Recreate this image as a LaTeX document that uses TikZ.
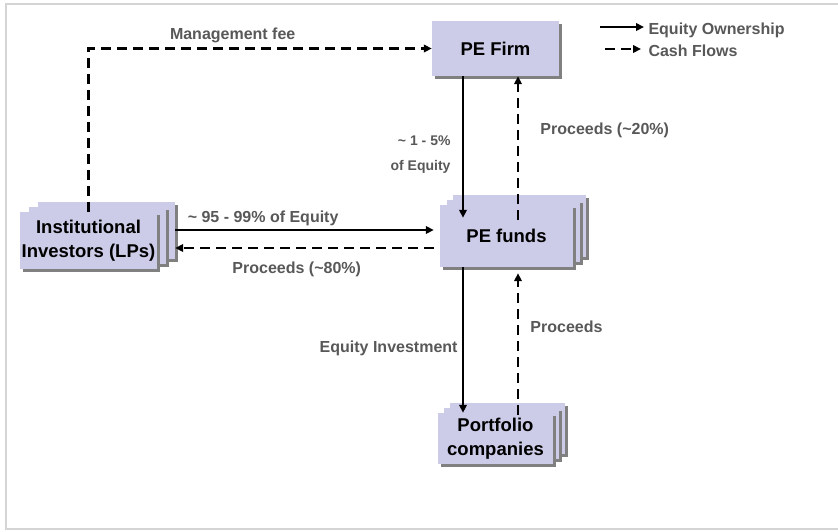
\documentclass[tikz,border=0pt]{standalone}
\usepackage{fontspec}
\setmainfont{Liberation Sans}
\usepackage{tikz}
\usetikzlibrary{positioning, arrows.meta, shadows}

\definecolor{boxfill}{RGB}{204,204,232}
\definecolor{boxshade}{RGB}{128,128,128}
\definecolor{lblgray}{RGB}{88,88,88}
\definecolor{framegray}{RGB}{212,212,212}

\tikzset{
  card/.style={fill=boxfill, inner sep=0pt, align=center,
    font=\bfseries\fontsize{18.5}{23.5}\selectfont,
    drop shadow={shadow xshift=3pt, shadow yshift=-3pt, fill=boxshade, opacity=1}},
  lbl/.style={text=lblgray, font=\bfseries\fontsize{16}{19}\selectfont},
  small/.style={text=lblgray, align=right, font=\bfseries\fontsize{14}{25}\selectfont},
  equity/.style={line width=2.3pt, -{Triangle[length=8pt,width=7.5pt]}},
  cash/.style={equity, dash pattern=on 10pt off 6pt},
}

\begin{document}
\begin{tikzpicture}[x=1pt, y=-1pt]
\useasboundingbox (0,0) rectangle (838,531);

% frame
\draw[framegray, line width=2.5pt] (840,4) -- (6,4) -- (6,529) -- (840,529);

% boxes (stacked ones get two copies behind)
\node[card, minimum width=127pt, minimum height=55pt] (firm) at (495.5,48.5) {PE Firm};

\foreach \k in {2,1}
  \node[card, minimum width=137pt, minimum height=57pt, xshift=\k*9pt, yshift=\k*5pt] at (88.5,240.5) {};
\node[card, minimum width=137pt, minimum height=57pt] (inv) at (88.5,240.5) {Institutional\\Investors (LPs)};

\foreach \k in {2,1}
  \node[card, minimum width=133pt, minimum height=62pt, xshift=\k*6.5pt, yshift=\k*5pt] at (506.5,236) {};
\node[card, minimum width=133pt, minimum height=62pt] (funds) at (506.5,236) {PE funds};

\foreach \k in {2,1}
  \node[card, minimum width=115pt, minimum height=51pt, xshift=\k*6pt, yshift=\k*5pt] at (495.5,438.5) {};
\node[card, minimum width=115pt, minimum height=51pt] (folio) at (495.5,438.5) {Portfolio\\companies};

% flows
\draw[cash] (inv.north) |- (firm.west) node[lbl, pos=0.71, above=1pt]{Management fee};

\draw[equity] ([xshift=-32.5pt]firm.south) -- ([xshift=-43.5pt,yshift=-13pt]funds.north)
  node[small, pos=0.556, left=8pt]{\textasciitilde{} 1 - 5\%\\of Equity};
\draw[cash] ([xshift=11.5pt,yshift=-15pt]funds.north) -- ([xshift=22.5pt]firm.south)
  node[lbl, pos=0.625, right=18pt]{Proceeds (\textasciitilde20\%)};

\draw[equity] ([xshift=18pt,yshift=10.5pt]inv.east) -- ([xshift=-6pt,yshift=6pt]funds.west)
  node[lbl, pos=0.34, above]{\textasciitilde{} 95 - 99\% of Equity};
\draw[cash] ([xshift=-6pt,yshift=-12pt]funds.west) -- ([xshift=18pt,yshift=-7.5pt]inv.east)
  node[lbl, pos=0.53, below=9pt]{Proceeds (\textasciitilde80\%)};

\draw[equity] ([xshift=-43.5pt]funds.south) -- ([xshift=-32.5pt]folio.north)
  node[lbl, pos=0.56, left=1pt]{Equity Investment};
\draw[cash] ([xshift=22.5pt,yshift=-2pt]folio.north) -- ([xshift=11.5pt,yshift=-6pt]funds.south)
  node[lbl, pos=0.62, right=8pt]{Proceeds};

% legend
\node[lbl, anchor=west] (own) at (645,30) {Equity Ownership};
\node[lbl, anchor=west] (cf) at (645,51) {Cash Flows};
\draw[equity] ([xshift=-45pt,yshift=3pt]own.west) -- ([xshift=-1pt,yshift=3pt]own.west);
\draw[cash] ([xshift=-40pt,yshift=2pt]cf.west) -- ([xshift=-4pt,yshift=2pt]cf.west);
\end{tikzpicture}
\end{document}
